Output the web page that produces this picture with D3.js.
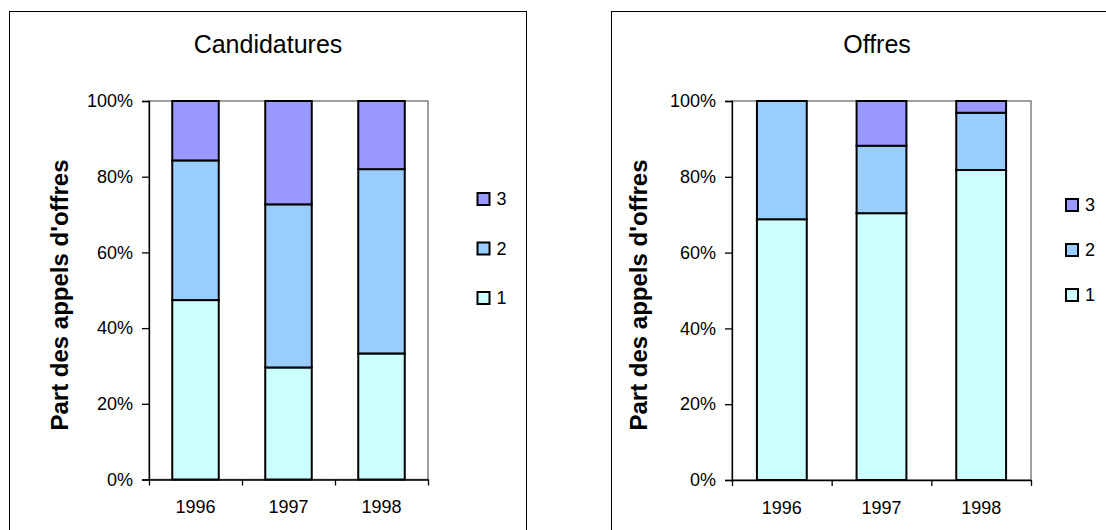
<!DOCTYPE html>
<html>
<head>
<meta charset="utf-8">
<script src="https://cdn.jsdelivr.net/npm/d3@7"></script>
<style>
  body { margin: 0; background: #fff; }
  svg { display: block; font-family: "Liberation Sans", Arial, sans-serif; }
</style>
</head>
<body>
<div id="svg-container"></div>
<script>
// data (percent of total per year)
const years = ["1996", "1997", "1998"];
const seriesNames = ["1", "2", "3"];
const colors = ["#ccffff", "#99ccff", "#9999ff"];
const yTicks = [0, 20, 40, 60, 80, 100];

const candidatures1 = [47.4, 29.6, 33.3];
const candidatures2 = [36.9, 43.1, 48.7];
const candidatures3 = [15.7, 27.3, 18.0];

const offres1 = [68.8, 70.4, 81.8];
const offres2 = [31.2, 17.8, 15.1];
const offres3 = [0, 11.8, 3.1];

const width = 1106;
const height = 530;

const svg = d3
  .select("#svg-container")
  .append("svg")
  .attr("width", width)
  .attr("height", height);

const drawPanel = (cfg, s1, s2, s3) => {
  const g = svg.append("g");

  // chart frame (bottom edge falls outside the picture)
  g.append("rect")
    .attr("x", cfg.box[0] + 0.5)
    .attr("y", cfg.box[1] + 0.5)
    .attr("width", cfg.box[2])
    .attr("height", 600)
    .attr("fill", "#fff")
    .attr("stroke", "#000")
    .attr("stroke-width", 1);

  g.append("text")
    .attr("x", cfg.titleX)
    .attr("y", 53)
    .attr("text-anchor", "middle")
    .attr("font-size", 25)
    .attr("fill", "#000")
    .text(cfg.title);

  const x = d3
    .scaleBand()
    .domain(years)
    .range([cfg.left, cfg.right])
    .paddingInner(0.5)
    .paddingOuter(0.25);

  const y = d3.scaleLinear().domain([0, 100]).range([cfg.bottom, cfg.top]);

  // plot area border
  g.append("rect")
    .attr("x", cfg.left)
    .attr("y", cfg.top)
    .attr("width", cfg.right - cfg.left)
    .attr("height", cfg.bottom - cfg.top)
    .attr("fill", "#fff")
    .attr("stroke", "#808080")
    .attr("stroke-width", 1.5);

  const rows = years.map((yr, i) => ({ year: yr, "1": s1[i], "2": s2[i], "3": s3[i] }));
  const stacked = d3.stack().keys(seriesNames)(rows);

  g.append("g")
    .selectAll("g")
    .data(stacked)
    .join("g")
    .attr("fill", (d, i) => colors[i])
    .selectAll("rect")
    .data((d) => d.filter((p) => p[1] - p[0] > 0))
    .join("rect")
    .attr("x", (d) => x(d.data.year))
    .attr("y", (d) => y(d[1]))
    .attr("width", x.bandwidth())
    .attr("height", (d) => y(d[0]) - y(d[1]))
    .attr("stroke", "#000")
    .attr("stroke-width", 2);

  // y axis
  g.append("g")
    .attr("transform", `translate(${cfg.left},0)`)
    .call(
      d3.axisLeft(y)
        .tickValues(yTicks)
        .tickFormat((d) => d + "%")
        .tickSize(7)
        .tickPadding(9)
    )
    .call((a) => a.selectAll("line, path").attr("stroke", "#000").attr("stroke-width", 1.3))
    .call((a) => a.selectAll("text").attr("font-size", 18).attr("fill", "#000"));

  // x axis: ticks between categories, labels at centers
  const xEdge = d3.scaleLinear().domain([0, years.length]).range([cfg.left, cfg.right]);
  g.append("g")
    .attr("transform", `translate(0,${cfg.bottom})`)
    .call(d3.axisBottom(xEdge).tickValues(d3.range(years.length + 1)).tickFormat("").tickSize(6).tickSizeOuter(0))
    .call((a) => a.selectAll("line, path").attr("stroke", "#000").attr("stroke-width", 1.3));

  g.append("g")
    .attr("transform", `translate(0,${cfg.bottom})`)
    .call(d3.axisBottom(x).tickSize(0).tickPadding(21))
    .call((a) => a.select(".domain").remove())
    .call((a) => a.selectAll("text").attr("font-size", 18).attr("fill", "#000"));

  // axis title
  g.append("text")
    .attr("transform", `translate(${cfg.labelX},295) rotate(-90)`)
    .attr("text-anchor", "middle")
    .attr("font-size", 24)
    .attr("font-weight", "bold")
    .attr("fill", "#000")
    .text("Part des appels d'offres");

  // legend, series 3 on top
  const legend = g
    .append("g")
    .selectAll("g")
    .data(seriesNames)
    .join("g")
    .attr("transform", (d, i) => `translate(${cfg.legendX},${cfg.legendY[i]})`);

  legend
    .append("rect")
    .attr("x", 0)
    .attr("y", -6)
    .attr("width", 12)
    .attr("height", 12)
    .attr("fill", (d, i) => colors[i])
    .attr("stroke", "#000")
    .attr("stroke-width", 2);

  legend
    .append("text")
    .attr("x", 19)
    .attr("y", 0)
    .attr("dy", "0.35em")
    .attr("font-size", 18)
    .attr("fill", "#000")
    .text((d) => d);
};

drawPanel(
  {
    title: "Candidatures",
    box: [9, 11, 517],
    titleX: 268,
    left: 149,
    right: 428,
    top: 101,
    bottom: 479.5,
    labelX: 68,
    legendX: 477.5,
    legendY: [298, 248.5, 199],
  },
  candidatures1,
  candidatures2,
  candidatures3
);

drawPanel(
  {
    title: "Offres",
    box: [611, 11, 540],
    titleX: 877,
    left: 732,
    right: 1031,
    top: 101,
    bottom: 480,
    labelX: 647,
    legendX: 1066,
    legendY: [295, 250, 205],
  },
  offres1,
  offres2,
  offres3
);
</script>
</body>
</html>
